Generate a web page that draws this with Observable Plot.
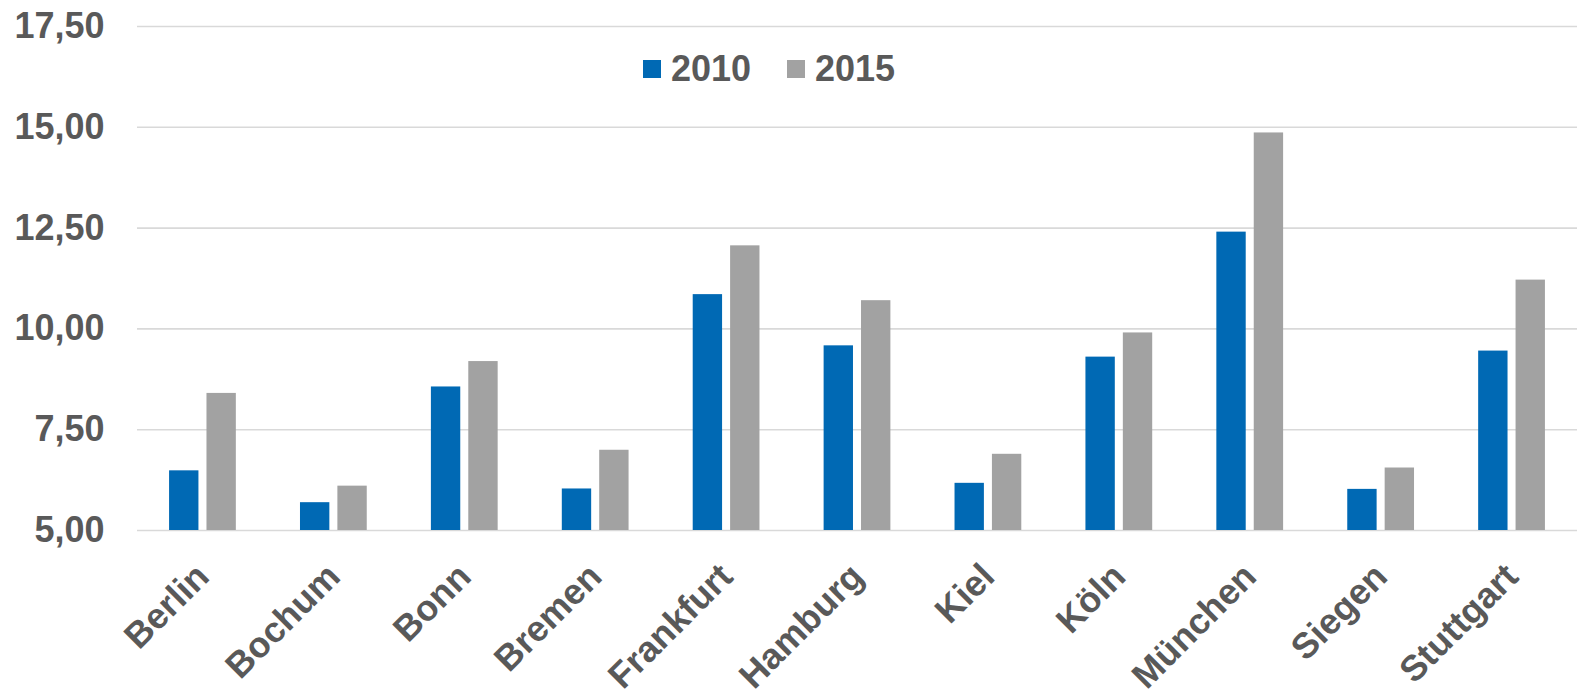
<!DOCTYPE html>
<html>
<head>
<meta charset="utf-8">
<script src="https://cdn.jsdelivr.net/npm/d3@7"></script>
<script src="https://cdn.jsdelivr.net/npm/@observablehq/plot@0.6"></script>
<style>
  html, body { margin: 0; padding: 0; background: #fff; }
  #wrap { position: relative; width: 1577px; height: 690px; font-family: "Liberation Sans", Arial, sans-serif; }
  #legend { position: absolute; left: 0; top: 0; width: 1577px; height: 100px; pointer-events: none; }
  .sw { position: absolute; width: 18px; height: 18px; top: 60px; }
  .lt { position: absolute; top: 51px; font-size: 36px; line-height: 36px; font-weight: bold; color: #595959; }
</style>
</head>
<body>
<div id="wrap">
  <div id="chart"></div>
  <div id="legend"></div>
</div>
<script>
const cities = ["Berlin","Bochum","Bonn","Bremen","Frankfurt","Hamburg","Kiel","Köln","München","Siegen","Stuttgart"];
const v2010 = [6.48, 5.69, 8.56, 6.03, 10.85, 9.58, 6.17, 9.30, 12.40, 6.02, 9.45];
const v2015 = [8.40, 6.10, 9.19, 6.99, 12.06, 10.70, 6.89, 9.90, 14.86, 6.55, 11.21];
const years = ["2010", "2015"];
const yTicks = [5, 7.5, 10, 12.5, 15, 17.5];
const colors = ["#0069b4", "#a2a2a2"];

const rows = cities.map((c, i) => ({city: c, a: v2010[i], b: v2015[i]}));
const fmt = d => d3.format(".2f")(d).replace(".", ",");
const base = yTicks[0];

const chart = Plot.plot({
  width: 1577,
  height: 690,
  marginLeft: 137,
  marginRight: 0,
  marginTop: 26,
  marginBottom: 160,
  style: {fontFamily: "'Liberation Sans', Arial, sans-serif", color: "#595959", background: "#fff"},
  x: {domain: cities, paddingInner: 0.49, paddingOuter: 0.245, round: false, axis: null},
  y: {domain: [yTicks[0], yTicks[yTicks.length - 1]], axis: null},
  marks: [
    Plot.gridY(yTicks, {stroke: "#d9d9d9", strokeOpacity: 1, strokeWidth: 1.6}),
    Plot.barY(rows, {x: "city", y1: base, y2: "a", fill: colors[0], insetRight: 37.4}),
    Plot.barY(rows, {x: "city", y1: base, y2: "b", fill: colors[1], insetLeft: 37.4}),
    Plot.axisY(yTicks, {tickSize: 0, tickPadding: 33, fontSize: 36, fontWeight: "bold", tickFormat: fmt, label: null}),
    Plot.axisX({tickRotate: -45, tickSize: 0, tickPadding: 40, fontSize: 36, fontWeight: "bold", label: null})
  ]
});
document.getElementById("chart").appendChild(chart);

const legend = document.getElementById("legend");
const legendX = [[643, 671], [787, 815]];
years.forEach((y, i) => {
  const sw = document.createElement("div");
  sw.className = "sw";
  sw.style.left = legendX[i][0] + "px";
  sw.style.background = colors[i];
  legend.appendChild(sw);
  const t = document.createElement("div");
  t.className = "lt";
  t.style.left = legendX[i][1] + "px";
  t.textContent = y;
  legend.appendChild(t);
});
</script>
</body>
</html>
